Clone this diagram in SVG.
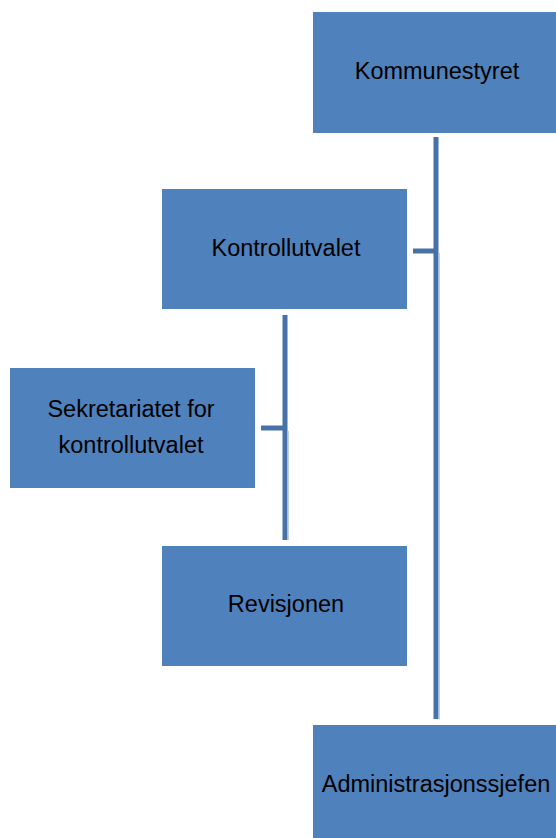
<svg xmlns="http://www.w3.org/2000/svg" width="556" height="838" viewBox="0 0 556 838">
<style>
.box{fill:#4F81BD;}
.lbl{font-family:"Liberation Sans",Arial,sans-serif;font-size:23.5px;fill:#000;text-anchor:middle;}
.ln{stroke:#4672A9;stroke-width:5;fill:none;}
.hl{stroke:#A8C0DE;stroke-width:1.5;fill:none;}
</style>
<rect width="556" height="838" fill="#fff"/>
<g id="connectors">
<line class="ln" x1="436" y1="137" x2="436" y2="719"/>
<line class="hl" x1="439" y1="253" x2="439" y2="719"/>
<line class="ln" x1="413" y1="251" x2="436" y2="251"/>
<line class="ln" x1="285" y1="315" x2="285" y2="540"/>
<line class="hl" x1="288" y1="431" x2="288" y2="540"/>
<line class="ln" x1="261" y1="428" x2="285" y2="428"/>
</g>
<g id="kommunestyret"><rect class="box" x="313" y="12" width="245" height="121"/><text class="lbl" x="437" y="79">Kommunestyret</text></g>
<g id="kontrollutvalet"><rect class="box" x="162" y="189" width="245" height="120"/><text class="lbl" x="286" y="256">Kontrollutvalet</text></g>
<g id="sekretariatet"><rect class="box" x="10" y="368" width="245" height="120"/><text class="lbl" x="131" y="417">Sekretariatet for</text><text class="lbl" x="131" y="453">kontrollutvalet</text></g>
<g id="revisjonen"><rect class="box" x="162" y="546" width="245" height="120"/><text class="lbl" x="286" y="612">Revisjonen</text></g>
<g id="administrasjonssjefen"><rect class="box" x="313" y="725" width="245" height="115"/><text class="lbl" x="436" y="792">Administrasjonssjefen</text></g>
</svg>
